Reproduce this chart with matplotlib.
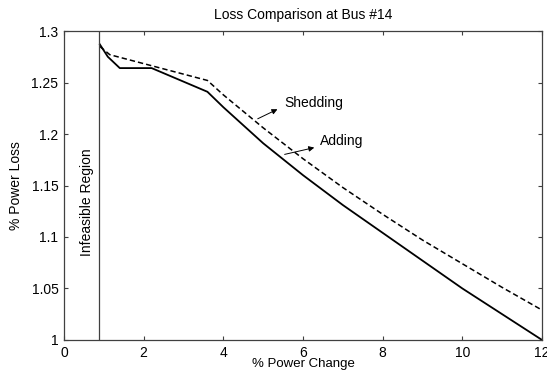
import matplotlib
matplotlib.use('Agg')
from matplotlib import pyplot as plt

plt.rcParams['font.family'] = ['Liberation Sans', 'DejaVu Sans']

# Adding (solid)
add_x = [0.9, 1.1, 1.4, 2.2, 3.6, 4, 5, 6, 7, 8, 9, 10, 11, 12]
add_y = [1.287, 1.275, 1.264, 1.264, 1.241, 1.226, 1.191, 1.160, 1.131, 1.104, 1.077, 1.050, 1.025, 1.000]
# Shedding (dashed)
shed_x = [0.9, 1.15, 3.6, 4, 5, 6, 7, 8, 9, 10, 11, 12]
shed_y = [1.285, 1.277, 1.252, 1.238, 1.206, 1.176, 1.148, 1.122, 1.097, 1.074, 1.051, 1.029]

infeasible_x = 0.88
xticks = [0, 2, 4, 6, 8, 10, 12]
yticks = [1, 1.05, 1.1, 1.15, 1.2, 1.25, 1.3]
ytick_labels = ['1', '1.05', '1.1', '1.15', '1.2', '1.25', '1.3']

fig = plt.figure(figsize=(5.47, 3.71), dpi=100)
ax = fig.add_axes([0.117, 0.0836, 0.874, 0.8328])

ax.plot(add_x, add_y, color='black', lw=1.3, ls='-')
ax.plot(shed_x, shed_y, color='black', lw=1.1, ls=(0, (3.5, 2)))
ax.axvline(infeasible_x, color='#404040', lw=0.9)

ax.text(0.57, 1.134, 'Infeasible Region', rotation=90, ha='center', va='center', fontsize=10)

ax.annotate('', xy=(5.42, 1.2252), xytext=(4.80, 1.2136),
            arrowprops=dict(arrowstyle='-|>', color='black', lw=0.7, mutation_scale=8))
ax.text(5.52, 1.2301, 'Shedding', ha='left', va='center', fontsize=10)
ax.annotate('', xy=(6.35, 1.1874), xytext=(5.47, 1.1796),
            arrowprops=dict(arrowstyle='-|>', color='black', lw=0.7, mutation_scale=8))
ax.text(6.43, 1.1932, 'Adding', ha='left', va='center', fontsize=10)

ax.set_xlim(0, 12)
ax.set_ylim(1, 1.3)
ax.set_xticks(xticks)
ax.set_yticks(yticks)
ax.set_yticklabels(ytick_labels)
ax.tick_params(direction='in', top=True, right=True, length=3, width=0.8,
               labelsize=10, color='#404040', pad=4)
for s in ax.spines.values():
    s.set_color('#404040')
    s.set_linewidth(0.9)

ax.set_title('Loss Comparison at Bus #14', fontsize=10, pad=9)
ax.set_xlabel('% Power Change', fontsize=9.5, labelpad=-1)
ax.set_ylabel('% Power Loss', fontsize=10, labelpad=6)

fig.savefig('out.png', dpi=100)
